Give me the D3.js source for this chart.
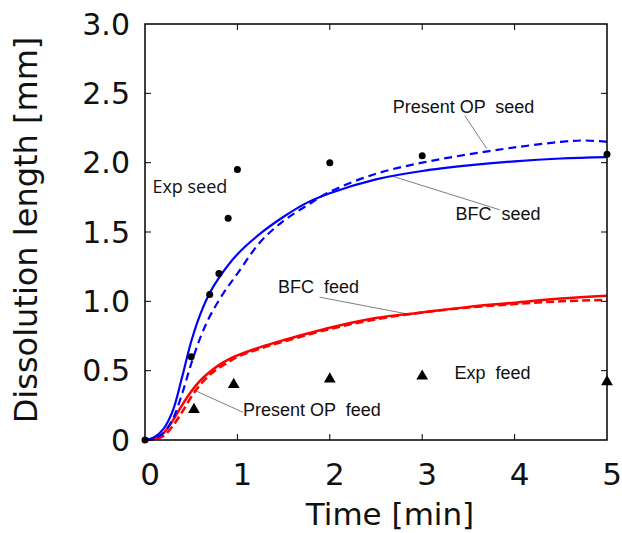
<!DOCTYPE html>
<html>
<head>
<meta charset="utf-8">
<script src="https://cdn.jsdelivr.net/npm/d3@7"></script>
<style>
	body { margin: 0; background: #fff; }
</style>
</head>
<body>
<div id="graph"></div>
<script>
// Dissolution length vs time, seed and feed
var bfc_seed_t = [0, 0.1, 0.2, 0.3, 0.4, 0.5, 0.6, 0.7, 0.8, 1.0, 1.25, 1.5, 1.75, 2.0, 2.5, 3.0, 3.5, 4.0, 4.5, 5.0];
var bfc_seed_v = [0, 0.02, 0.08, 0.21, 0.45, 0.71, 0.91, 1.06, 1.17, 1.34, 1.49, 1.61, 1.71, 1.78, 1.88, 1.94, 1.98, 2.01, 2.03, 2.04];

var op_seed_t = [0, 0.1, 0.2, 0.3, 0.4, 0.5, 0.6, 0.7, 0.85, 1.0, 1.25, 1.5, 1.75, 2.0, 2.5, 3.0, 3.5, 4.0, 4.5, 4.75, 5.0];
var op_seed_v = [0, 0.01, 0.05, 0.15, 0.33, 0.55, 0.74, 0.89, 1.06, 1.2, 1.43, 1.58, 1.69, 1.79, 1.92, 2.0, 2.06, 2.11, 2.15, 2.16, 2.15];

var bfc_feed_t = [0, 0.1, 0.2, 0.3, 0.4, 0.5, 0.6, 0.7, 0.8, 0.9, 1.0, 1.25, 1.5, 2.0, 2.5, 3.0, 3.5, 4.0, 4.5, 5.0];
var bfc_feed_v = [0, 0.01, 0.05, 0.14, 0.25, 0.35, 0.43, 0.49, 0.54, 0.58, 0.61, 0.67, 0.72, 0.81, 0.88, 0.92, 0.96, 0.99, 1.02, 1.04];

var op_feed_t = [0, 0.1, 0.2, 0.3, 0.4, 0.5, 0.6, 0.7, 0.8, 0.9, 1.0, 1.25, 1.5, 2.0, 2.5, 3.0, 3.5, 4.0, 4.5, 5.0];
var op_feed_v = [0, 0.005, 0.03, 0.1, 0.2, 0.31, 0.4, 0.47, 0.52, 0.56, 0.6, 0.66, 0.71, 0.8, 0.87, 0.92, 0.955, 0.98, 1.0, 1.01];

var exp_seed_t = [0, 0.5, 0.7, 0.8, 0.9, 1.0, 2.0, 3.0, 5.0];
var exp_seed_v = [0, 0.6, 1.05, 1.2, 1.6, 1.95, 2.0, 2.05, 2.06];

var exp_feed_t = [0.53, 0.96, 2.0, 3.0, 5.0];
var exp_feed_v = [0.22, 0.40, 0.44, 0.46, 0.42];

var x_ticks = [0, 1, 2, 3, 4, 5];
var y_ticks = [0, 0.5, 1.0, 1.5, 2.0, 2.5, 3.0];

// labels: text position (t, v) and leader line from (lt1, lv1) to (lt2, lv2)
var labels = [
	{text: "Present OP  seed", t: 2.68, v: 2.36, lt1: 3.46, lv1: 2.34, lt2: 3.70, lv2: 2.10},
	{text: "BFC  seed", t: 3.36, v: 1.59, lt1: 3.84, lv1: 1.66, lt2: 2.69, lv2: 1.90},
	{text: "Exp seed", t: 0.08, v: 1.78, font: "Open Sans"},
	{text: "BFC  feed", t: 1.44, v: 1.06, lt1: 1.89, lv1: 1.03, lt2: 2.83, lv2: 0.91},
	{text: "Present OP  feed", t: 1.06, v: 0.17, lt1: 1.06, lv1: 0.20, lt2: 0.53, lv2: 0.36},
	{text: "Exp  feed", t: 3.35, v: 0.44}
];

function pairs(ts, vs) {
	return ts.map(function(t, i) { return {t: t, v: vs[i]}; });
}

var margin = {top: 24, right: 15, bottom: 93, left: 145};
var width = 622 - margin.left - margin.right;
var height = 533 - margin.top - margin.bottom;

var scale_time = d3.scaleLinear().range([0, width]).domain([0, 5]);
var scale_len = d3.scaleLinear().range([height, 0]).domain([0, 3]);

var svg = d3.select("#graph").append("svg")
	.attr("width", 622)
	.attr("height", 533)
	.append("g")
	.attr("transform", "translate(" + margin.left + "," + margin.top + ")");

var line = d3.line()
	.x(function(d) { return scale_time(d.t); })
	.y(function(d) { return scale_len(d.v); })
	.curve(d3.curveCatmullRom.alpha(0.5));

// Leader lines for labels
svg.selectAll(".leader")
	.data(labels.filter(function(d) { return d.lt1 !== undefined; }))
	.enter()
	.append("line")
	.attr("x1", function(d) { return scale_time(d.lt1); })
	.attr("y1", function(d) { return scale_len(d.lv1); })
	.attr("x2", function(d) { return scale_time(d.lt2); })
	.attr("y2", function(d) { return scale_len(d.lv2); })
	.attr("stroke", "#7f7f7f")
	.attr("stroke-width", 1);

// Curves
svg.append("path")
	.attr("fill", "none")
	.attr("stroke", "#ff0000")
	.attr("stroke-width", 2.5)
	.attr("stroke-dasharray", "8,4")
	.attr("d", line(pairs(op_feed_t, op_feed_v)));

svg.append("path")
	.attr("fill", "none")
	.attr("stroke", "#ff0000")
	.attr("stroke-width", 2.5)
	.attr("d", line(pairs(bfc_feed_t, bfc_feed_v)));

svg.append("path")
	.attr("fill", "none")
	.attr("stroke", "#0000ff")
	.attr("stroke-width", 2.2)
	.attr("stroke-dasharray", "8,5")
	.attr("d", line(pairs(op_seed_t, op_seed_v)));

svg.append("path")
	.attr("fill", "none")
	.attr("stroke", "#0000ff")
	.attr("stroke-width", 2.2)
	.attr("d", line(pairs(bfc_seed_t, bfc_seed_v)));

// Frame
svg.append("rect")
	.attr("width", width)
	.attr("height", height)
	.attr("fill", "none")
	.attr("stroke", "#000")
	.attr("stroke-width", 1.5);

// Inward ticks on all four sides
var inner_x = x_ticks.slice(1, -1);
var inner_y = y_ticks.slice(1, -1);
var tick_len = 6;

svg.selectAll(".xtick-b")
	.data(inner_x).enter().append("line")
	.attr("x1", function(d) { return scale_time(d); })
	.attr("x2", function(d) { return scale_time(d); })
	.attr("y1", height)
	.attr("y2", height - tick_len)
	.attr("stroke", "#000");

svg.selectAll(".xtick-t")
	.data(inner_x).enter().append("line")
	.attr("x1", function(d) { return scale_time(d); })
	.attr("x2", function(d) { return scale_time(d); })
	.attr("y1", 0)
	.attr("y2", tick_len)
	.attr("stroke", "#000");

svg.selectAll(".ytick-l")
	.data(inner_y).enter().append("line")
	.attr("x1", 0)
	.attr("x2", tick_len)
	.attr("y1", function(d) { return scale_len(d); })
	.attr("y2", function(d) { return scale_len(d); })
	.attr("stroke", "#000");

svg.selectAll(".ytick-r")
	.data(inner_y).enter().append("line")
	.attr("x1", width)
	.attr("x2", width - tick_len)
	.attr("y1", function(d) { return scale_len(d); })
	.attr("y2", function(d) { return scale_len(d); })
	.attr("stroke", "#000");

// Tick labels
svg.selectAll(".xlabel")
	.data(x_ticks).enter().append("text")
	.attr("x", function(d) { return scale_time(d) + 5; })
	.attr("y", height + 45)
	.style("text-anchor", "middle")
	.style("font-family", "DejaVu Sans")
	.style("font-size", "31px")
	.style("fill", "#111")
	.text(function(d) { return d; });

svg.selectAll(".ylabel")
	.data(y_ticks).enter().append("text")
	.attr("x", -15)
	.attr("y", function(d) { return scale_len(d); })
	.attr("dy", "0.36em")
	.style("text-anchor", "end")
	.style("font-family", "DejaVu Sans")
	.style("font-size", "30px")
	.style("fill", "#111")
	.text(function(d) { return d === 0 ? "0" : d.toFixed(1); });

// Axis titles
svg.append("text")
	.attr("x", 245)
	.attr("y", height + 85)
	.style("text-anchor", "middle")
	.style("font-family", "DejaVu Sans")
	.style("font-size", "31px")
	.style("fill", "#111")
	.text("Time [min]");

svg.append("text")
	.attr("transform", "translate(" + (-108) + "," + (height / 2 - 2) + ") rotate(-90)")
	.style("text-anchor", "middle")
	.style("font-family", "DejaVu Sans")
	.style("font-size", "32px")
	.style("fill", "#111")
	.text("Dissolution length [mm]");

// Experimental points
svg.selectAll(".exp-seed")
	.data(pairs(exp_seed_t, exp_seed_v))
	.enter()
	.append("circle")
	.attr("cx", function(d) { return scale_time(d.t); })
	.attr("cy", function(d) { return scale_len(d.v); })
	.attr("r", 3.5)
	.attr("fill", "#000");

svg.selectAll(".exp-feed")
	.data(pairs(exp_feed_t, exp_feed_v))
	.enter()
	.append("path")
	.attr("transform", function(d) { return "translate(" + scale_time(d.t) + "," + scale_len(d.v) + ")"; })
	.attr("d", d3.symbol().type(d3.symbolTriangle).size(60))
	.attr("fill", "#000");

// Annotation texts
svg.selectAll(".note")
	.data(labels)
	.enter()
	.append("text")
	.attr("x", function(d) { return scale_time(d.t); })
	.attr("y", function(d) { return scale_len(d.v); })
	.style("font-family", function(d) { return d.font || "Liberation Sans"; })
	.style("font-size", "18px")
	.style("white-space", "pre")
	.style("fill", "#111")
	.text(function(d) { return d.text; });
</script>
</body>
</html>
